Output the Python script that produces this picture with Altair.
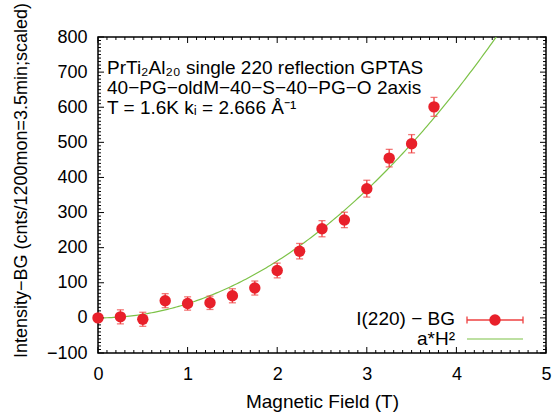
import altair as alt
import pandas as pd

# ---- data ----
field_T = [0.0, 0.25, 0.5, 0.75, 1.0, 1.25, 1.5, 1.75, 2.0, 2.25, 2.5, 2.75, 3.0, 3.25, 3.5, 3.75]
intensity = [0, 3, -4, 49, 41, 43, 63, 85, 135, 190, 254, 279, 368, 455, 496, 601]
error = [8, 20, 20, 20, 19, 19, 20, 20, 21, 22, 23, 22, 24, 25, 26, 27]
fit_a = 40.5  # a in a*H^2

x_major = [0, 1, 2, 3, 4, 5]
x_minor = [i / 10 for i in range(0, 51) if i % 10 != 0]
y_major = [-100, 0, 100, 200, 300, 400, 500, 600, 700, 800]
y_minor = [v for v in range(-100, 801, 10) if v % 100 != 0]

annotation_lines = [
    "PrTi₂Al₂₀ single 220 reflection GPTAS",
    "40−PG−oldM−40−S−40−PG−O 2axis",
    "T = 1.6K kᵢ = 2.666 Å⁻¹",
]
legend_labels = ["I(220) − BG", "a*H²"]

W, H = 448, 316
FONT = "Liberation Sans"
FS = 19
RED = "#e8202a"
ERR_RED = "#ee4040"
GREEN = "#7cc247"

df = pd.DataFrame({"H": field_T, "I": intensity, "err": error})
df["lo"] = df["I"] - df["err"]
df["hi"] = df["I"] + df["err"]

xs = alt.Scale(domain=[0, 5], nice=False, zero=False)
ys = alt.Scale(domain=[-100, 800], nice=False, zero=False)

xaxis = alt.Axis(values=x_major, title="Magnetic Field (T)", ticks=False, grid=False,
                 domain=False, labelPadding=12, titlePadding=9, format="d",
                 labelFlush=False, labelOverlap=False, titleFontSize=19)
yaxis = alt.Axis(values=y_major, title="Intensity−BG (cnts/1200mon=3.5min;scaled)",
                 ticks=False, grid=False, domain=False, labelPadding=11,
                 titleX=-77, titleY=143, titleAngle=-90, titleBaseline="middle",
                 titleAlign="center", labelFlush=False, labelOverlap=False,
                 titleFontSize=18)

def X(f):
    return alt.X(f, scale=xs, axis=xaxis, title="Magnetic Field (T)")

def Y(f):
    return alt.Y(f, scale=ys, axis=yaxis, title="Intensity−BG (cnts/1200mon=3.5min;scaled)")

base = alt.Chart(df)

fit = alt.Chart(alt.sequence(0, 5.001, 0.025, as_="H")).transform_calculate(
    I=f"{fit_a} * datum.H * datum.H"
).mark_line(color=GREEN, strokeWidth=1.2, clip=True).encode(
    x=X("H:Q"), y=Y("I:Q"),
)

bars = base.mark_rule(color=ERR_RED, strokeWidth=1.3).encode(
    x=X("H:Q"), y=Y("lo:Q"), y2="hi:Q")
caps_lo = base.mark_tick(color=ERR_RED, orient="horizontal", size=7, thickness=1.3).encode(
    x=X("H:Q"), y=Y("lo:Q"))
caps_hi = base.mark_tick(color=ERR_RED, orient="horizontal", size=7, thickness=1.3).encode(
    x=X("H:Q"), y=Y("hi:Q"))
points = base.mark_circle(color=RED, size=130, opacity=1).encode(
    x=X("H:Q"), y=Y("I:Q"))

# ---- inward ticks on all four sides ----
def xticks(vals, length):
    d = pd.DataFrame({"v": vals})
    bot = alt.Chart(d).mark_rule(color="black", strokeWidth=1).encode(
        x=X("v:Q"), y=alt.value(H), y2=alt.value(H - length))
    top = alt.Chart(d).mark_rule(color="black", strokeWidth=1).encode(
        x=X("v:Q"), y=alt.value(0), y2=alt.value(length))
    return bot + top

def yticks(vals, length):
    d = pd.DataFrame({"v": vals})
    left = alt.Chart(d).mark_rule(color="black", strokeWidth=1).encode(
        y=Y("v:Q"), x=alt.value(0), x2=alt.value(length))
    right = alt.Chart(d).mark_rule(color="black", strokeWidth=1).encode(
        y=Y("v:Q"), x=alt.value(W), x2=alt.value(W - length))
    return left + right

ticks = xticks(x_major, 6) + xticks(x_minor, 3) + yticks(y_major, 6) + yticks(y_minor, 3)

one = pd.DataFrame({"k": [0]})

def label(text, x, y, align):
    return alt.Chart(one).mark_text(
        align=align, baseline="middle", font=FONT, fontSize=FS, color="black", text=text
    ).encode(x=alt.value(x), y=alt.value(y))

# ---- annotation ----
ann_rows = [31, 51, 71]
ann = alt.layer(*[label(t, 9, y, "left") for t, y in zip(annotation_lines, ann_rows)])

# ---- legend ----
leg_text = alt.layer(label(legend_labels[0], 357, 282, "right"),
                     label(legend_labels[1], 357, 302, "right"))
leg_err = alt.Chart(one).mark_rule(color=ERR_RED, strokeWidth=1.3).encode(
    x=alt.value(369), x2=alt.value(425), y=alt.value(283))
leg_cap1 = alt.Chart(one).mark_rule(color=ERR_RED, strokeWidth=1.3).encode(
    x=alt.value(369), y=alt.value(279.5), y2=alt.value(286.5))
leg_cap2 = alt.Chart(one).mark_rule(color=ERR_RED, strokeWidth=1.3).encode(
    x=alt.value(425), y=alt.value(279.5), y2=alt.value(286.5))
leg_pt = alt.Chart(one).mark_circle(color=RED, size=130, opacity=1).encode(
    x=alt.value(397), y=alt.value(283))
leg_line = alt.Chart(one).mark_rule(color=GREEN, strokeWidth=1.2).encode(
    x=alt.value(369), x2=alt.value(425), y=alt.value(302))

chart = alt.layer(
    fit, ticks, bars, caps_lo, caps_hi, points, ann,
    leg_text, leg_err, leg_cap1, leg_cap2, leg_pt, leg_line,
).properties(
    width=W, height=H,
    autosize=alt.AutoSizeParams(type="none"),
    padding={"left": 98, "top": 37, "right": 10, "bottom": 61},
    background="white",
).configure_view(
    stroke="black", strokeWidth=1.5
).configure_axis(
    labelFont=FONT, labelFontSize=18, labelColor="black",
    titleFont=FONT, titleColor="black", titleFontWeight="normal",
    labelOverlap=False, labelFlush=False,
)

chart.save("out.html", embed_options={"renderer": "svg", "actions": False})
